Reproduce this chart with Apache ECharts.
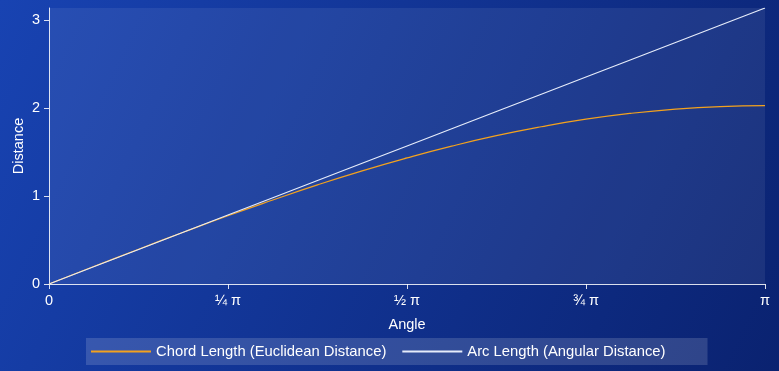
<!DOCTYPE html>
<html>
<head>
<meta charset="utf-8">
<script src="https://cdn.jsdelivr.net/npm/echarts@6/dist/echarts.min.js"></script>
<style>
  html, body { margin: 0; padding: 0; }
  #chart { width: 779px; height: 371px; }
</style>
</head>
<body>
<div id="chart"></div>
<script>
// Angle samples (radians), steps of π/16 from 0 to π
const angles = [0, 0.196, 0.393, 0.589, 0.785, 0.982, 1.178, 1.374, 1.571,
                1.767, 1.963, 2.160, 2.356, 2.553, 2.749, 2.945, 3.1416];
// Straight-line distance between the two points on the unit circle
const chordLength = [0, 0.199, 0.396, 0.589, 0.777, 0.956, 1.128, 1.288, 1.435,
                     1.569, 1.688, 1.790, 1.876, 1.943, 1.991, 2.020, 2.030];
// Distance travelled along the circle
const arcLength = [0, 0.196, 0.393, 0.589, 0.785, 0.982, 1.178, 1.374, 1.571,
                   1.767, 1.963, 2.160, 2.356, 2.553, 2.749, 2.945, 3.1416];

const xTickValues = [0, 0.7854, 1.5708, 2.3562, 3.1416];
const xTickLabels = ['0', '¼ π', '½ π', '¾ π', 'π'];
const yTickValues = [0, 1, 2, 3];

const seriesNames = ['Chord Length (Euclidean Distance)', 'Arc Length (Angular Distance)'];

const font = '"Liberation Sans", Arial, Helvetica, sans-serif';
const fontSize = 14.5;
const axisColor = 'rgba(255,255,255,0.85)';

const chart = echarts.init(document.getElementById('chart'), null, { renderer: 'canvas' });

const pairs = (xs, ys) => xs.map((x, i) => [x, ys[i]]);

chart.setOption({
  backgroundColor: new echarts.graphic.LinearGradient(0, 0, 1, 1, [
    { offset: 0, color: '#1843b2' },
    { offset: 1, color: '#0a2270' }
  ]),
  textStyle: { fontFamily: font },
  animation: false,
  grid: {
    left: 49, right: 14, top: 8, bottom: 87,
    containLabel: false,
    outerBoundsMode: 'none',
    show: true,
    backgroundColor: 'rgba(255,255,255,0.07)',
    borderWidth: 0
  },
  legend: {
    left: 86,
    bottom: 6,
    itemWidth: 60,
    itemHeight: 14,
    itemGap: 15,
    padding: [6, 42, 6, 4],
    backgroundColor: 'rgba(255,255,255,0.15)',
    itemStyle: { opacity: 0 },
    textStyle: { color: '#ffffff', fontSize: 14.8, fontFamily: font },
    data: seriesNames
  },
  xAxis: {
    type: 'value',
    min: 0,
    max: 3.1416,
    name: 'Angle',
    nameLocation: 'middle',
    nameGap: 33,
    nameMoveOverlap: false,
    nameTextStyle: { color: '#ffffff', fontSize: fontSize },
    splitLine: { show: false },
    axisLine: { lineStyle: { color: axisColor, width: 1 } },
    axisTick: { show: true, length: 5, lineStyle: { color: axisColor }, customValues: xTickValues },
    axisLabel: {
      color: '#ffffff', fontSize: fontSize, margin: 9,
      customValues: xTickValues,
      formatter: (v) => {
        const i = xTickValues.findIndex(t => Math.abs(t - v) < 1e-3);
        return i >= 0 ? xTickLabels[i] : '';
      }
    }
  },
  yAxis: {
    type: 'value',
    min: 0,
    max: 3.1416,
    name: 'Distance',
    nameLocation: 'middle',
    nameGap: 23,
    nameMoveOverlap: false,
    nameTextStyle: { color: '#ffffff', fontSize: fontSize },
    splitLine: { show: false },
    axisLine: { show: true, lineStyle: { color: axisColor, width: 1 } },
    axisTick: { show: true, length: 5, lineStyle: { color: axisColor }, customValues: yTickValues },
    axisLabel: { color: '#ffffff', fontSize: fontSize, margin: 9, customValues: yTickValues }
  },
  series: [
    {
      name: seriesNames[0],
      type: 'line',
      smooth: true,
      symbol: 'none',
      data: pairs(angles, chordLength),
      lineStyle: { color: '#f3a21e', width: 1.2 },
      itemStyle: { color: '#f3a21e' }
    },
    {
      name: seriesNames[1],
      type: 'line',
      smooth: false,
      symbol: 'none',
      data: pairs(angles, arcLength),
      lineStyle: { color: '#e6ecfa', width: 1.2 },
      itemStyle: { color: '#e6ecfa' }
    }
  ]
});
</script>
</body>
</html>
